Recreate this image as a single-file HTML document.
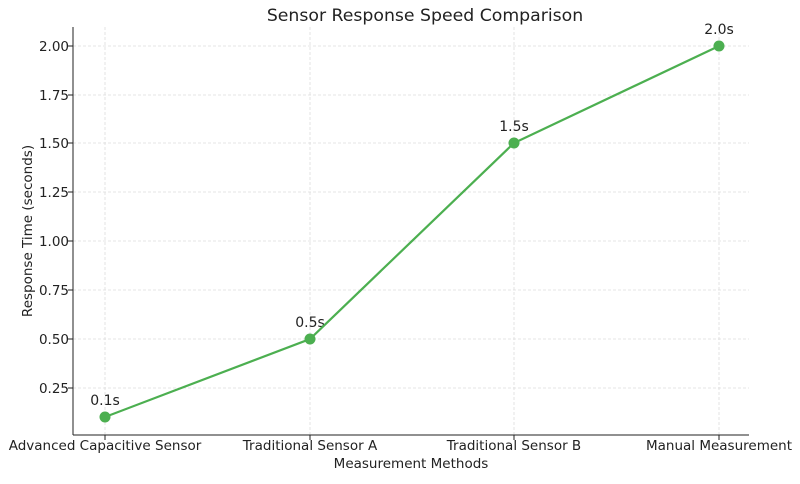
<!DOCTYPE html>
<html><head><meta charset="utf-8"><style>
body{margin:0;background:#fff;}
svg text{font-family:"DejaVu Sans","Liberation Sans",sans-serif;fill:#222;}
</style></head><body>
<svg width="800" height="479" viewBox="0 0 800 479" xmlns="http://www.w3.org/2000/svg">
<rect width="800" height="479" fill="#fff"/>
<g stroke="#ddd" stroke-width="0.8" stroke-dasharray="3,2">
<line x1="105" y1="27" x2="105" y2="435"/>
<line x1="310" y1="27" x2="310" y2="435"/>
<line x1="514" y1="27" x2="514" y2="435"/>
<line x1="719" y1="27" x2="719" y2="435"/>
<line x1="73" y1="46" x2="749" y2="46"/>
<line x1="73" y1="95" x2="749" y2="95"/>
<line x1="73" y1="143" x2="749" y2="143"/>
<line x1="73" y1="192" x2="749" y2="192"/>
<line x1="73" y1="241" x2="749" y2="241"/>
<line x1="73" y1="290" x2="749" y2="290"/>
<line x1="73" y1="339" x2="749" y2="339"/>
<line x1="73" y1="388" x2="749" y2="388"/>
</g>
<g stroke="#222" stroke-width="1">
<line x1="73" y1="27" x2="73" y2="435"/>
<line x1="73" y1="435" x2="749" y2="435"/>
<line x1="68" y1="46" x2="73" y2="46"/><line x1="68" y1="95" x2="73" y2="95"/>
<line x1="68" y1="143" x2="73" y2="143"/><line x1="68" y1="192" x2="73" y2="192"/>
<line x1="68" y1="241" x2="73" y2="241"/><line x1="68" y1="290" x2="73" y2="290"/>
<line x1="68" y1="339" x2="73" y2="339"/><line x1="68" y1="388" x2="73" y2="388"/>
<line x1="105" y1="435" x2="105" y2="440"/><line x1="310" y1="435" x2="310" y2="440"/>
<line x1="514" y1="435" x2="514" y2="440"/><line x1="719" y1="435" x2="719" y2="440"/>
</g>
<g font-size="13.5" text-anchor="end">
<text x="69" y="51">2.00</text><text x="69" y="100">1.75</text>
<text x="69" y="148">1.50</text><text x="69" y="197">1.25</text>
<text x="69" y="246">1.00</text><text x="69" y="295">0.75</text>
<text x="69" y="344">0.50</text><text x="69" y="393">0.25</text>
</g>
<g font-size="13.5" text-anchor="middle">
<text x="105" y="450">Advanced Capacitive Sensor</text>
<text x="310" y="450">Traditional Sensor A</text>
<text x="514" y="450">Traditional Sensor B</text>
<text x="719" y="450">Manual Measurement</text>
<text x="411" y="468">Measurement Methods</text>
<text x="425" y="21" font-size="17.3">Sensor Response Speed Comparison</text>
<text x="105" y="405" font-size="14">0.1s</text>
<text x="310" y="327" font-size="14">0.5s</text>
<text x="514" y="131" font-size="14">1.5s</text>
<text x="719" y="34" font-size="14">2.0s</text>
</g>
<text transform="translate(32,231) rotate(-90)" font-size="13.5" text-anchor="middle">Response Time (seconds)</text>
<polyline points="105,417 310,339 514,143 719,46" fill="none" stroke="#4caf50" stroke-width="2.2"/>
<g fill="#4caf50">
<circle cx="105" cy="417" r="5.5"/><circle cx="310" cy="339" r="5.5"/>
<circle cx="514" cy="143" r="5.5"/><circle cx="719" cy="46" r="5.5"/>
</g>
</svg>
</body></html>
